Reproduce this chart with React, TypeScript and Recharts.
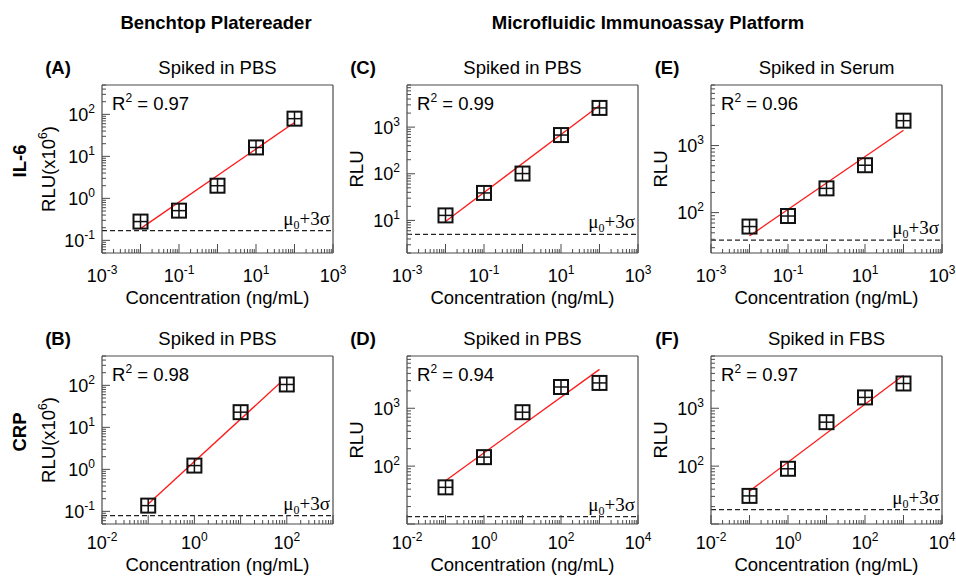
import { ScatterChart, Scatter, XAxis, YAxis, ReferenceLine } from "recharts";

// concentrations (ng/mL)
const CONC_IL6 = [0.01, 0.1, 1, 10, 100];
const CONC_CRP_PLATE = [0.1, 1, 10, 100];
const CONC_CRP_CHIP = [0.1, 1, 10, 100, 1000];

// measured signal per panel
const RLU_A = [0.28, 0.51, 2.0, 16.3, 79];
const RLU_B = [0.137, 1.23, 23, 105];
const RLU_C = [12.8, 38.8, 101, 676, 2580];
const RLU_D = [43, 143, 855, 2330, 2740];
const RLU_E = [62, 89, 230, 509, 2350];
const RLU_F = [30.6, 90, 575, 1540, 2680];

// end points of the fitted lines [conc, rlu]
const FIT_A = [[0.01, 0.19], [100, 64]];
const FIT_B = [[0.1, 0.15], [75, 120]];
const FIT_C = [[0.01, 9.5], [100, 2900]];
const FIT_D = [[0.1, 56], [1000, 4700]];
const FIT_E = [[0.01, 45], [100, 1690]];
const FIT_F = [[0.1, 37], [1000, 3720]];

// mu0 + 3 sigma levels
const LOD_A = 0.17;
const LOD_B = 0.079;
const LOD_C = 5.0;
const LOD_D = 13.4;
const LOD_E = 39;
const LOD_F = 17.7;

// axis ranges and labelled ticks
const X_DOMAIN_IL6 = [1e-3, 1e3];
const X_DOMAIN_CRP_PLATE = [1e-2, 1e3];
const X_DOMAIN_CRP_CHIP = [1e-2, 1e4];
const X_LABELS_IL6 = [1e-3, 1e-1, 1e1, 1e3];
const X_LABELS_CRP_PLATE = [1e-2, 1, 1e2];
const X_LABELS_CRP_CHIP = [1e-2, 1, 1e2, 1e4];

const Y_DOMAIN_PLATE = [0.05, 500];
const Y_DOMAIN_C = [2, 8000];
const Y_DOMAIN_E = [25, 8000];
const Y_DOMAIN_DF = [10, 8000];
const Y_LABELS_PLATE = [0.1, 1, 10, 100];
const Y_LABELS_C = [10, 100, 1000];
const Y_LABELS_HIGH = [100, 1000];

const FONT = '"Liberation Sans", Arial, Helvetica, sans-serif';
const SERIF = '"Liberation Serif", "Times New Roman", serif';
const AXIS = "#4a4a4a";
const RED = "#ff1a1a";

const BOX_W = 231;
const BOX_H = 168;
const ML = 75;
const MT = 45;
const MR = 22;
const MB = 55;
const CW = ML + BOX_W + MR;
const CH = MT + BOX_H + MB;

const expOf = (v: number) => Math.round(Math.log10(v));
const isDecade = (v: number) => Math.abs(Math.log10(v) - expOf(v)) < 1e-6;
const hasLabel = (labels: number[], v: number) =>
  labels.some((l) => Math.abs(l - v) <= l * 1e-6);

// every 1..9 x 10^n tick inside the range
function allLogTicks(domain: number[]) {
  const [lo, hi] = domain;
  const out: number[] = [];
  for (let d = Math.floor(Math.log10(lo)); d <= Math.ceil(Math.log10(hi)); d++) {
    for (let m = 1; m <= 9; m++) {
      const v = Number((m * Math.pow(10, d)).toPrecision(3));
      if (v >= lo * 0.9999 && v <= hi * 1.0001) out.push(v);
    }
  }
  return out;
}

function Pow10({ x, y, exp, anchor }: { x: number; y: number; exp: number; anchor: string }) {
  return (
    <text x={x} y={y} textAnchor={anchor} fontSize={18} fontFamily={FONT} fill="#000">
      10
      <tspan dy={-8} fontSize={12}>
        {exp}
      </tspan>
    </text>
  );
}

const SquareMark = (props: any) => {
  const { cx, cy } = props;
  const s = 7;
  return (
    <g stroke="#111" fill="none">
      <rect x={cx - s} y={cy - s} width={2 * s} height={2 * s} strokeWidth={2} />
      <line x1={cx - s} x2={cx + s} y1={cy} y2={cy} strokeWidth={1.5} />
      <line x1={cx} x2={cx} y1={cy - s} y2={cy + s} strokeWidth={1.5} />
    </g>
  );
};

const renderLod = (props: any) => {
  const vb = props.viewBox;
  return (
    <text
      x={vb.x + vb.width - 3}
      y={vb.y - 6}
      textAnchor="end"
      fontFamily={SERIF}
      fontSize={19}
      fill="#000"
    >
      μ
      <tspan dy={4} fontSize={12}>
        0
      </tspan>
      <tspan dy={-4}>+3σ</tspan>
    </text>
  );
};

type PanelProps = {
  left: number;
  top: number;
  letter: string;
  title: string;
  r2: string;
  scaled?: boolean;
  yLabelGap: number;
  tickGap: number;
  labelGap: number;
  conc: number[];
  rlu: number[];
  fit: number[][];
  lod: number;
  xDomain: number[];
  xLabels: number[];
  yDomain: number[];
  yLabels: number[];
};

function Panel(p: PanelProps) {
  const points = p.conc.map((x, i) => ({ x, y: p.rlu[i] }));
  const fit = p.fit.map(([x, y]) => ({ x, y }));
  const xTicks = allLogTicks(p.xDomain);
  const yTicks = allLogTicks(p.yDomain);
  const line = { stroke: AXIS, strokeWidth: 1.2 };

  const xTick = (props: any) => {
    const { x, y, payload } = props;
    const v = payload.value;
    return (
      <g>
        <line x1={x} x2={x} y1={y} y2={y - (isDecade(v) ? 9 : 4)} stroke={AXIS} strokeWidth={1} />
        {hasLabel(p.xLabels, v) && (
          <Pow10 x={x} y={y + p.tickGap + 6.5} exp={expOf(v)} anchor="middle" />
        )}
      </g>
    );
  };

  const yTick = (props: any) => {
    const { x, y, payload } = props;
    const v = payload.value;
    return (
      <g>
        <line x1={x} x2={x + (isDecade(v) ? 8 : 4)} y1={y} y2={y} stroke={AXIS} strokeWidth={1} />
        {hasLabel(p.yLabels, v) && <Pow10 x={x - 7} y={y + 6.5} exp={expOf(v)} anchor="end" />}
      </g>
    );
  };

  return (
    <div style={{ position: "absolute", left: p.left - ML, top: p.top - MT, width: CW, height: CH }}>
      <ScatterChart width={CW} height={CH} margin={{ top: MT - 1, right: MR - 1, bottom: 0, left: 0 }}>
        <XAxis
          dataKey="x"
          type="number"
          scale="log"
          domain={p.xDomain}
          allowDataOverflow
          ticks={xTicks}
          interval={0}
          tick={xTick}
          tickLine={false}
          tickSize={0}
          tickMargin={0}
          height={MB}
          axisLine={line}
        />
        <YAxis
          dataKey="y"
          type="number"
          scale="log"
          domain={p.yDomain}
          allowDataOverflow
          ticks={yTicks}
          interval={0}
          tick={yTick}
          tickLine={false}
          tickSize={0}
          tickMargin={0}
          width={ML}
          axisLine={line}
        />
        {/* mirror axes that close the frame */}
        <XAxis
          xAxisId="top"
          dataKey="x"
          orientation="top"
          type="number"
          scale="log"
          domain={p.xDomain}
          allowDataOverflow
          height={1}
          tick={false}
          tickLine={false}
          axisLine={line}
        />
        <YAxis
          yAxisId="right"
          dataKey="y"
          orientation="right"
          type="number"
          scale="log"
          domain={p.yDomain}
          allowDataOverflow
          width={1}
          tick={false}
          tickLine={false}
          axisLine={line}
        />
        <ReferenceLine
          y={p.lod}
          stroke="#222"
          strokeDasharray="5 3"
          strokeWidth={1.2}
          label={renderLod}
        />
        <Scatter
          data={fit}
          xAxisId="top"
          yAxisId="right"
          line={{ stroke: RED, strokeWidth: 1.3 }}
          shape={() => <g />}
          isAnimationActive={false}
        />
        <Scatter data={points} shape={SquareMark} isAnimationActive={false} />
      </ScatterChart>

      <svg
        width={CW}
        height={CH}
        fontFamily={FONT}
        style={{ position: "absolute", left: 0, top: 0, pointerEvents: "none" }}
      >
        <text x={ML - 44} y={MT - 11.5} textAnchor="middle" fontSize={18.5} fontWeight="bold">
          ({p.letter})
        </text>
        <text x={ML + BOX_W / 2} y={MT - 11.5} textAnchor="middle" fontSize={18.5}>
          {p.title}
        </text>
        <text x={ML + 10} y={MT + 24.5} fontSize={18.5}>
          R
          <tspan dy={-8} fontSize={12}>
            2
          </tspan>
          <tspan dy={8}> = {p.r2}</tspan>
        </text>
        <text
          transform={`translate(${ML - p.yLabelGap}, ${MT + BOX_H / 2}) rotate(-90)`}
          x={0}
          y={6.5}
          textAnchor="middle"
          fontSize={18.5}
        >
          {p.scaled ? (
            <>
              RLU(x10
              <tspan dy={-8} fontSize={12}>
                6
              </tspan>
              <tspan dy={8}>)</tspan>
            </>
          ) : (
            "RLU"
          )}
        </text>
        <text x={ML + BOX_W / 2} y={MT + BOX_H + p.labelGap + 6.5} textAnchor="middle" fontSize={18.5}>
          Concentration (ng/mL)
        </text>
      </svg>
    </div>
  );
}

const ROW1 = { top: 85, tickGap: 22, labelGap: 44 };
const ROW2 = { top: 356, tickGap: 18.5, labelGap: 40 };

export default function App() {
  return (
    <div
      style={{
        position: "absolute",
        left: 0,
        top: 0,
        width: 956,
        height: 577,
        overflow: "hidden",
        background: "#fff",
        fontFamily: FONT,
      }}
    >
      <svg width={956} height={577} style={{ position: "absolute", left: 0, top: 0 }} fontFamily={FONT}>
        <text x={216} y={28.5} textAnchor="middle" fontSize={18.5} fontWeight="bold">
          Benchtop Platereader
        </text>
        <text x={648} y={28.5} textAnchor="middle" fontSize={18.5} fontWeight="bold">
          Microfluidic Immunoassay Platform
        </text>
        <text transform="translate(19, 161) rotate(-90)" x={0} y={6.5} textAnchor="middle" fontSize={18.5} fontWeight="bold">
          IL-6
        </text>
        <text transform="translate(19, 432) rotate(-90)" x={0} y={6.5} textAnchor="middle" fontSize={18.5} fontWeight="bold">
          CRP
        </text>
      </svg>

      <Panel
        left={102}
        {...ROW1}
        letter="A"
        title="Spiked in PBS"
        r2="0.97"
        scaled
        yLabelGap={54}
        conc={CONC_IL6}
        rlu={RLU_A}
        fit={FIT_A}
        lod={LOD_A}
        xDomain={X_DOMAIN_IL6}
        xLabels={X_LABELS_IL6}
        yDomain={Y_DOMAIN_PLATE}
        yLabels={Y_LABELS_PLATE}
      />
      <Panel
        left={406.5}
        {...ROW1}
        letter="C"
        title="Spiked in PBS"
        r2="0.99"
        yLabelGap={51}
        conc={CONC_IL6}
        rlu={RLU_C}
        fit={FIT_C}
        lod={LOD_C}
        xDomain={X_DOMAIN_IL6}
        xLabels={X_LABELS_IL6}
        yDomain={Y_DOMAIN_C}
        yLabels={Y_LABELS_C}
      />
      <Panel
        left={711}
        {...ROW1}
        letter="E"
        title="Spiked in Serum"
        r2="0.96"
        yLabelGap={51}
        conc={CONC_IL6}
        rlu={RLU_E}
        fit={FIT_E}
        lod={LOD_E}
        xDomain={X_DOMAIN_IL6}
        xLabels={X_LABELS_IL6}
        yDomain={Y_DOMAIN_E}
        yLabels={Y_LABELS_HIGH}
      />
      <Panel
        left={102}
        {...ROW2}
        letter="B"
        title="Spiked in PBS"
        r2="0.98"
        scaled
        yLabelGap={54}
        conc={CONC_CRP_PLATE}
        rlu={RLU_B}
        fit={FIT_B}
        lod={LOD_B}
        xDomain={X_DOMAIN_CRP_PLATE}
        xLabels={X_LABELS_CRP_PLATE}
        yDomain={Y_DOMAIN_PLATE}
        yLabels={Y_LABELS_PLATE}
      />
      <Panel
        left={406.5}
        {...ROW2}
        letter="D"
        title="Spiked in PBS"
        r2="0.94"
        yLabelGap={51}
        conc={CONC_CRP_CHIP}
        rlu={RLU_D}
        fit={FIT_D}
        lod={LOD_D}
        xDomain={X_DOMAIN_CRP_CHIP}
        xLabels={X_LABELS_CRP_CHIP}
        yDomain={Y_DOMAIN_DF}
        yLabels={Y_LABELS_HIGH}
      />
      <Panel
        left={711}
        {...ROW2}
        letter="F"
        title="Spiked in FBS"
        r2="0.97"
        yLabelGap={51}
        conc={CONC_CRP_CHIP}
        rlu={RLU_F}
        fit={FIT_F}
        lod={LOD_F}
        xDomain={X_DOMAIN_CRP_CHIP}
        xLabels={X_LABELS_CRP_CHIP}
        yDomain={Y_DOMAIN_DF}
        yLabels={Y_LABELS_HIGH}
      />
    </div>
  );
}
